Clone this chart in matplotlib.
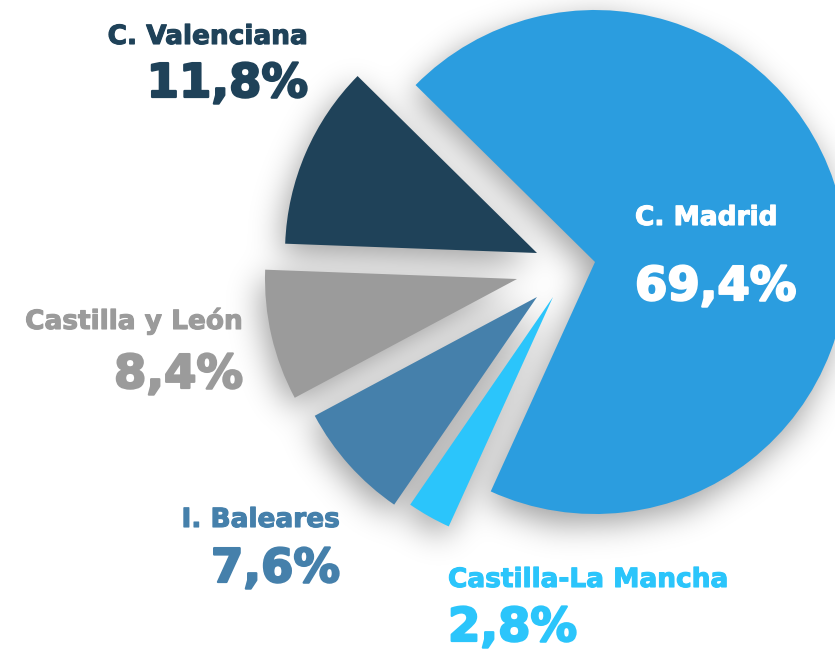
import matplotlib
matplotlib.use("Agg")
import matplotlib.pyplot as plt
import matplotlib.patheffects as pe
import numpy as np
from matplotlib.path import Path

# share by region (%), clockwise from the top edge of Madrid
regions = ["C. Madrid", "Castilla-La Mancha", "I. Baleares", "Castilla y León", "C. Valenciana"]
shares = [69.4, 2.8, 7.6, 8.4, 11.8]
share_labels = ["69,4%", "2,8%", "7,6%", "8,4%", "11,8%"]

colors = ["#2b9ddf", "#2bc5fb", "#4580ab", "#9b9b9b", "#1f4259"]
# where each exploded wedge's tip sits, in px from the pie centre (right, up)
tip_shift = [(0, 0), (-42, -35), (-58, -35), (-78, -17), (-58, 9)]

W, H = 835, 650
R = 252.0          # pie radius in px
CX, CY = 595, 262  # pie centre in px (from top left)


def main():
    fig = plt.figure(figsize=(W / 100, H / 100), dpi=100)
    ax = fig.add_axes([0, 0, 1, 1])
    ax.axis("off")

    wedges, _ = ax.pie(shares, colors=colors, startangle=135.4, counterclock=False,
                       radius=1, wedgeprops=dict(linewidth=0))
    for w, (dx, dy) in zip(wedges, tip_shift):
        w.set_center((dx / R, dy / R))
        w.set_zorder(3)

    # soft drop shadow: blur a mask of all wedges
    xs = (np.arange(W) + 0.5 - CX) / R
    ys = (CY - (np.arange(H) + 0.5)) / R
    gx, gy = np.meshgrid(xs, ys)
    pts = np.column_stack([gx.ravel(), gy.ravel()])
    mask = np.zeros(W * H)
    for w in wedges:
        p = Path(w.get_path().vertices, w.get_path().codes)
        mask = np.maximum(mask, p.contains_points(pts))
    mask = mask.reshape(H, W)
    mask = np.roll(mask, 10, axis=0)
    mask = np.roll(mask, -4, axis=1)
    sigma = 16
    k = np.arange(-3 * sigma, 3 * sigma + 1)
    kern = np.exp(-k ** 2 / (2 * sigma ** 2))
    kern /= kern.sum()
    blur = np.apply_along_axis(lambda r: np.convolve(r, kern, mode="same"), 1, mask)
    blur = np.apply_along_axis(lambda c: np.convolve(c, kern, mode="same"), 0, blur)
    shadow = np.zeros((H, W, 4))
    shadow[..., 3] = 0.38 * blur
    ax.imshow(shadow, extent=[-CX / R, (W - CX) / R, -(H - CY) / R, CY / R],
              zorder=1, interpolation="bilinear")

    ax.set_xlim(-CX / R, (W - CX) / R)
    ax.set_ylim(-(H - CY) / R, CY / R)
    ax.set_aspect("equal")

    # labels: (text x, name baseline, pct baseline, align, colour)
    lab = {
        "C. Madrid": (635, 225, 300, "left", "white"),
        "Castilla-La Mancha": (448, 587, 641, "left", colors[1]),
        "I. Baleares": (340, 527, 582, "right", colors[2]),
        "Castilla y León": (243, 329, 388, "right", colors[3]),
        "C. Valenciana": (308, 44, 97, "right", colors[4]),
    }
    for name, pct in zip(regions, share_labels):
        x, yn, yp, ha, c = lab[name]
        fig.text(x / W, 1 - yn / H, name, ha=ha, va="baseline", color=c,
                 fontsize=19, fontweight="bold", family="DejaVu Sans", zorder=5,
                 path_effects=[pe.withStroke(linewidth=0.8, foreground=c)])
        fig.text(x / W, 1 - yp / H, pct, ha=ha, va="baseline", color=c,
                 fontsize=33.5, fontweight="bold", family="DejaVu Sans", zorder=5,
                 path_effects=[pe.withStroke(linewidth=1.6, foreground=c)])

    fig.savefig("out.png", dpi=100)


if __name__ == "__main__":
    main()
